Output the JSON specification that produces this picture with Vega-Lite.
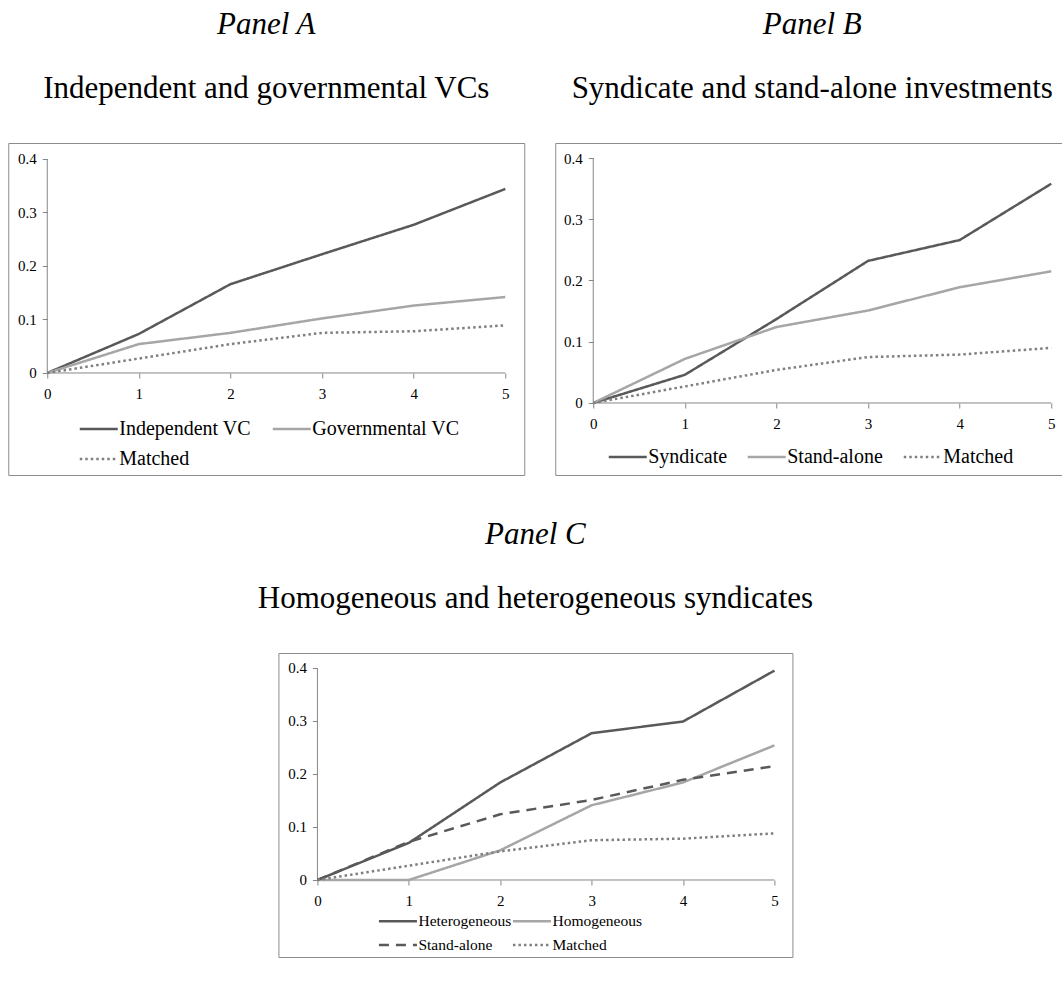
{
  "$schema": "https://vega.github.io/schema/vega-lite/v6.json",
  "background": "white",
  "padding": {"left": 7, "top": 8, "right": 0, "bottom": 0},
  "datasets": {
    "A": [
      {"t": 0, "v": 0, "s": "Independent VC"}, {"t": 1, "v": 0.073, "s": "Independent VC"}, {"t": 2, "v": 0.166, "s": "Independent VC"}, {"t": 3, "v": 0.222, "s": "Independent VC"}, {"t": 4, "v": 0.277, "s": "Independent VC"}, {"t": 5, "v": 0.344, "s": "Independent VC"},
      {"t": 0, "v": 0, "s": "Governmental VC"}, {"t": 1, "v": 0.054, "s": "Governmental VC"}, {"t": 2, "v": 0.075, "s": "Governmental VC"}, {"t": 3, "v": 0.102, "s": "Governmental VC"}, {"t": 4, "v": 0.126, "s": "Governmental VC"}, {"t": 5, "v": 0.142, "s": "Governmental VC"},
      {"t": 0, "v": 0, "s": "Matched"}, {"t": 1, "v": 0.027, "s": "Matched"}, {"t": 2, "v": 0.054, "s": "Matched"}, {"t": 3, "v": 0.075, "s": "Matched"}, {"t": 4, "v": 0.078, "s": "Matched"}, {"t": 5, "v": 0.089, "s": "Matched"}
    ],
    "B": [
      {"t": 0, "v": 0, "s": "Syndicate"}, {"t": 1, "v": 0.046, "s": "Syndicate"}, {"t": 2, "v": 0.137, "s": "Syndicate"}, {"t": 3, "v": 0.232, "s": "Syndicate"}, {"t": 4, "v": 0.266, "s": "Syndicate"}, {"t": 5, "v": 0.358, "s": "Syndicate"},
      {"t": 0, "v": 0, "s": "Stand-alone"}, {"t": 1, "v": 0.072, "s": "Stand-alone"}, {"t": 2, "v": 0.124, "s": "Stand-alone"}, {"t": 3, "v": 0.151, "s": "Stand-alone"}, {"t": 4, "v": 0.189, "s": "Stand-alone"}, {"t": 5, "v": 0.215, "s": "Stand-alone"},
      {"t": 0, "v": 0, "s": "Matched"}, {"t": 1, "v": 0.027, "s": "Matched"}, {"t": 2, "v": 0.054, "s": "Matched"}, {"t": 3, "v": 0.075, "s": "Matched"}, {"t": 4, "v": 0.079, "s": "Matched"}, {"t": 5, "v": 0.090, "s": "Matched"}
    ],
    "C": [
      {"t": 0, "v": 0, "s": "Heterogeneous"}, {"t": 1, "v": 0.070, "s": "Heterogeneous"}, {"t": 2, "v": 0.184, "s": "Heterogeneous"}, {"t": 3, "v": 0.277, "s": "Heterogeneous"}, {"t": 4, "v": 0.299, "s": "Heterogeneous"}, {"t": 5, "v": 0.395, "s": "Heterogeneous"},
      {"t": 0, "v": 0, "s": "Homogeneous"}, {"t": 1, "v": 0, "s": "Homogeneous"}, {"t": 2, "v": 0.056, "s": "Homogeneous"}, {"t": 3, "v": 0.141, "s": "Homogeneous"}, {"t": 4, "v": 0.184, "s": "Homogeneous"}, {"t": 5, "v": 0.254, "s": "Homogeneous"},
      {"t": 0, "v": 0, "s": "Stand-alone"}, {"t": 1, "v": 0.072, "s": "Stand-alone"}, {"t": 2, "v": 0.124, "s": "Stand-alone"}, {"t": 3, "v": 0.151, "s": "Stand-alone"}, {"t": 4, "v": 0.189, "s": "Stand-alone"}, {"t": 5, "v": 0.215, "s": "Stand-alone"},
      {"t": 0, "v": 0, "s": "Matched"}, {"t": 1, "v": 0.027, "s": "Matched"}, {"t": 2, "v": 0.054, "s": "Matched"}, {"t": 3, "v": 0.075, "s": "Matched"}, {"t": 4, "v": 0.078, "s": "Matched"}, {"t": 5, "v": 0.088, "s": "Matched"}
    ]
  },
  "vconcat": [
    {
      "hconcat": [
        {
          "width": 516, "height": 332,
          "title": {"text": "Panel A", "subtitle": "Independent and governmental VCs"},
          "layer": [
            {"data": {"values": [{}]}, "mark": {"type": "rule", "color": "#868686", "strokeWidth": 1},
             "encoding": {
               "x": {"datum": 0, "type": "quantitative", "scale": {"domain": [-0.4258, 5.2074], "nice": false, "zero": false}, "axis": {"values": [0, 1, 2, 3, 4, 5], "offset": -102, "format": "d", "title": null}},
               "x2": {"datum": 5},
               "y": {"datum": 0, "type": "quantitative", "scale": {"domain": [-0.1907, 0.4299], "nice": false, "zero": false}, "axis": {"values": [0, 0.1, 0.2, 0.3, 0.4], "offset": -39, "format": "~g", "title": null}}}},
            {"data": {"values": [{}]}, "mark": {"type": "rule", "color": "#868686", "strokeWidth": 1},
             "encoding": {
               "x": {"datum": 0, "type": "quantitative", "scale": {"domain": [-0.4258, 5.2074], "nice": false, "zero": false}, "axis": {"values": [0, 1, 2, 3, 4, 5], "offset": -102, "format": "d", "title": null}},
               "y": {"datum": 0, "type": "quantitative", "scale": {"domain": [-0.1907, 0.4299], "nice": false, "zero": false}, "axis": {"values": [0, 0.1, 0.2, 0.3, 0.4], "offset": -39, "format": "~g", "title": null}},
               "y2": {"datum": 0.4}}},
            {"data": {"name": "A"}, "mark": {"type": "line", "strokeWidth": 2.5, "strokeJoin": "round"},
             "encoding": {
               "x": {"field": "t", "type": "quantitative", "scale": {"domain": [-0.4258, 5.2074], "nice": false, "zero": false}, "axis": {"values": [0, 1, 2, 3, 4, 5], "offset": -102, "format": "d", "title": null}},
               "y": {"field": "v", "type": "quantitative", "scale": {"domain": [-0.1907, 0.4299], "nice": false, "zero": false}, "axis": {"values": [0, 0.1, 0.2, 0.3, 0.4], "offset": -39, "format": "~g", "title": null}},
               "color": {"field": "s", "type": "nominal", "sort": null, "scale": {"domain": ["Independent VC", "Governmental VC", "Matched"], "range": ["#595959", "#A6A6A6", "#7F7F7F"]},
                 "legend": {"orient": "none", "legendX": 70, "legendY": 276, "direction": "horizontal", "columns": 2, "labelFontSize": 20, "columnPadding": 20, "rowPadding": 10, "clipHeight": 20}},
               "strokeDash": {"field": "s", "type": "nominal", "sort": null, "scale": {"domain": ["Independent VC", "Governmental VC", "Matched"], "range": [[1, 0], [1, 0], [2.5, 3]]},
                 "legend": {"orient": "none", "legendX": 70, "legendY": 276, "direction": "horizontal", "columns": 2, "labelFontSize": 20, "columnPadding": 20, "rowPadding": 10, "clipHeight": 20}}
             }}
          ]
        },
        {
          "width": 528, "height": 332,
          "title": {"text": "Panel B", "subtitle": "Syndicate and stand-alone investments", "dx": -7},
          "layer": [
            {"data": {"values": [{}]}, "mark": {"type": "rule", "color": "#868686", "strokeWidth": 1},
             "encoding": {
               "x": {"datum": 0, "type": "quantitative", "scale": {"domain": [-0.4148, 5.3493], "nice": false, "zero": false}, "axis": {"values": [0, 1, 2, 3, 4, 5], "offset": -72, "format": "d", "title": null}},
               "x2": {"datum": 5},
               "y": {"datum": 0, "type": "quantitative", "scale": {"domain": [-0.1176, 0.4245], "nice": false, "zero": false}, "axis": {"values": [0, 0.1, 0.2, 0.3, 0.4], "offset": -38, "format": "~g", "title": null}}}},
            {"data": {"values": [{}]}, "mark": {"type": "rule", "color": "#868686", "strokeWidth": 1},
             "encoding": {
               "x": {"datum": 0, "type": "quantitative", "scale": {"domain": [-0.4148, 5.3493], "nice": false, "zero": false}, "axis": {"values": [0, 1, 2, 3, 4, 5], "offset": -72, "format": "d", "title": null}},
               "y": {"datum": 0, "type": "quantitative", "scale": {"domain": [-0.1176, 0.4245], "nice": false, "zero": false}, "axis": {"values": [0, 0.1, 0.2, 0.3, 0.4], "offset": -38, "format": "~g", "title": null}},
               "y2": {"datum": 0.4}}},
            {"data": {"name": "B"}, "mark": {"type": "line", "strokeWidth": 2.5, "strokeJoin": "round"},
             "encoding": {
               "x": {"field": "t", "type": "quantitative", "scale": {"domain": [-0.4148, 5.3493], "nice": false, "zero": false}, "axis": {"values": [0, 1, 2, 3, 4, 5], "offset": -72, "format": "d", "title": null}},
               "y": {"field": "v", "type": "quantitative", "scale": {"domain": [-0.1176, 0.4245], "nice": false, "zero": false}, "axis": {"values": [0, 0.1, 0.2, 0.3, 0.4], "offset": -38, "format": "~g", "title": null}},
               "color": {"field": "s", "type": "nominal", "sort": null, "scale": {"domain": ["Syndicate", "Stand-alone", "Matched"], "range": ["#595959", "#A6A6A6", "#7F7F7F"]},
                 "legend": {"orient": "none", "legendX": 52, "legendY": 304, "direction": "horizontal", "columns": 3, "labelFontSize": 20, "columnPadding": 19, "rowPadding": 0, "clipHeight": 20}},
               "strokeDash": {"field": "s", "type": "nominal", "sort": null, "scale": {"domain": ["Syndicate", "Stand-alone", "Matched"], "range": [[1, 0], [1, 0], [2.5, 3]]},
                 "legend": {"orient": "none", "legendX": 52, "legendY": 304, "direction": "horizontal", "columns": 3, "labelFontSize": 20, "columnPadding": 19, "rowPadding": 0, "clipHeight": 20}}
             }}
          ]
        }
      ],
      "spacing": 29,
      "resolve": {"scale": {"x": "independent", "y": "independent", "color": "independent", "strokeDash": "independent"}, "legend": {"color": "independent", "strokeDash": "independent"}, "axis": {"x": "independent", "y": "independent"}}
    },
    {
      "width": 514, "height": 304,
      "title": {"text": "Panel C", "subtitle": "Homogeneous and heterogeneous syndicates"},
      "layer": [
        {"data": {"values": [{}]}, "mark": {"type": "rule", "color": "#868686", "strokeWidth": 1},
         "encoding": {
           "x": {"datum": 0, "type": "quantitative", "scale": {"domain": [-0.4267, 5.197], "nice": false, "zero": false}, "axis": {"values": [0, 1, 2, 3, 4, 5], "offset": -77, "format": "d", "title": null}},
           "x2": {"datum": 5},
           "y": {"datum": 0, "type": "quantitative", "scale": {"domain": [-0.1453, 0.4283], "nice": false, "zero": false}, "axis": {"values": [0, 0.1, 0.2, 0.3, 0.4], "offset": -39, "format": "~g", "title": null}}}},
        {"data": {"values": [{}]}, "mark": {"type": "rule", "color": "#868686", "strokeWidth": 1},
         "encoding": {
           "x": {"datum": 0, "type": "quantitative", "scale": {"domain": [-0.4267, 5.197], "nice": false, "zero": false}, "axis": {"values": [0, 1, 2, 3, 4, 5], "offset": -77, "format": "d", "title": null}},
           "y": {"datum": 0, "type": "quantitative", "scale": {"domain": [-0.1453, 0.4283], "nice": false, "zero": false}, "axis": {"values": [0, 0.1, 0.2, 0.3, 0.4], "offset": -39, "format": "~g", "title": null}},
           "y2": {"datum": 0.4}}},
        {"data": {"name": "C"}, "mark": {"type": "line", "strokeWidth": 2.5, "strokeJoin": "round"},
         "encoding": {
           "x": {"field": "t", "type": "quantitative", "scale": {"domain": [-0.4267, 5.197], "nice": false, "zero": false}, "axis": {"values": [0, 1, 2, 3, 4, 5], "offset": -77, "format": "d", "title": null}},
           "y": {"field": "v", "type": "quantitative", "scale": {"domain": [-0.1453, 0.4283], "nice": false, "zero": false}, "axis": {"values": [0, 0.1, 0.2, 0.3, 0.4], "offset": -39, "format": "~g", "title": null}},
           "color": {"field": "s", "type": "nominal", "sort": null, "scale": {"domain": ["Heterogeneous", "Homogeneous", "Stand-alone", "Matched"], "range": ["#595959", "#A6A6A6", "#595959", "#7F7F7F"]},
             "legend": {"orient": "none", "legendX": 99, "legendY": 260, "direction": "horizontal", "columns": 2, "labelFontSize": 15.5, "columnPadding": -11, "rowPadding": 7, "clipHeight": 16}},
           "strokeDash": {"field": "s", "type": "nominal", "sort": null, "scale": {"domain": ["Heterogeneous", "Homogeneous", "Stand-alone", "Matched"], "range": [[1, 0], [1, 0], [10, 7], [2.5, 3]]},
             "legend": {"orient": "none", "legendX": 99, "legendY": 260, "direction": "horizontal", "columns": 2, "labelFontSize": 15.5, "columnPadding": -11, "rowPadding": 7, "clipHeight": 16}}
         }}
      ]
    }
  ],
  "spacing": 42,
  "center": true,
  "resolve": {"scale": {"x": "independent", "y": "independent", "color": "independent", "strokeDash": "independent"}, "legend": {"color": "independent", "strokeDash": "independent"}, "axis": {"x": "independent", "y": "independent"}},
  "config": {
    "font": "Liberation Serif",
    "view": {"stroke": "#8C8C8C", "strokeWidth": 1},
    "axis": {"domain": false, "grid": false, "ticks": true, "tickSize": 5, "tickColor": "#868686", "labelFont": "Liberation Serif", "labelFontSize": 15, "labelColor": "black", "labelPadding": 5, "labelFlush": false},
    "axisX": {"labelPadding": 8},
    "axisY": {"labelPadding": 6},
    "legend": {"title": null, "labelFont": "Liberation Serif", "labelColor": "black", "symbolType": "stroke", "symbolSize": 1444, "symbolStrokeWidth": 2.5, "labelOffset": 0, "padding": 0, "labelLimit": 400},
    "title": {"font": "Liberation Serif", "fontSize": 31, "fontStyle": "italic", "fontWeight": "normal", "color": "black", "subtitleFont": "Liberation Serif", "subtitleFontSize": 31, "subtitleFontStyle": "normal", "subtitleColor": "black", "subtitlePadding": 33, "offset": 38, "anchor": "middle", "frame": "group"}
  }
}
